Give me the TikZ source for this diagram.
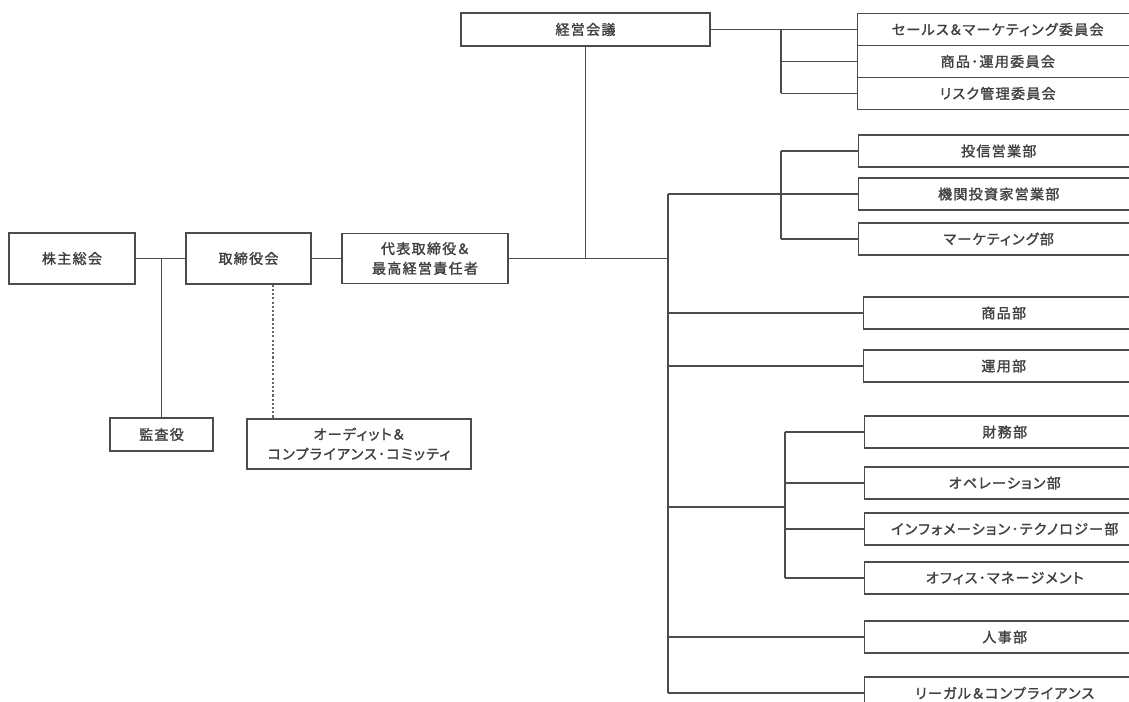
\documentclass[tikz,border=0pt]{standalone}
\usepackage{fontspec}
\newfontfamily\jpfont[LetterSpace=9, FakeBold=1.5, RawFeature=+palt]{Noto Sans CJK JP}
\usepackage{tikz}
\usetikzlibrary{positioning,calc}

\tikzset{
  unit/.style={draw=black!70, line width=1pt, fill=white, text=black!75,
    font=\jpfont\fontsize{10}{14}\selectfont, align=center, inner sep=0pt},
  dept/.style={unit, anchor=west, minimum width=7cm, minimum height=0.8cm},
  link/.style={draw=black!70, line width=1pt},
  dotlink/.style={draw=black!60, line width=1pt, dash pattern=on 1.5pt off 1.5pt}
}

\begin{document}
\begin{tikzpicture}[x=0.025cm, y=-0.025cm]
    \useasboundingbox (0,0) rectangle (1129,702);
    \clip (0,0) rectangle (1129,702);

    % Governance
    \node [unit, minimum width=3.15cm, minimum height=1.275cm] (kabu) at (72,258.5) {株主総会};
    \node [unit, minimum width=3.125cm, minimum height=1.275cm] (torishimari) at (248.5,258.5) {取締役会};
    \node [unit, minimum width=4.15cm, minimum height=1.25cm] (ceo) at (425,258.5) {代表取締役＆\\最高経営責任者};
    \node [unit, minimum width=2.575cm, minimum height=0.825cm] (kansa) at (161.5,434.5) {監査役};
    \node [unit, minimum width=5.6cm, minimum height=1.25cm] (audit) at (359,444) {オーディット＆\\コンプライアンス･コミッティ};
    \node [unit, minimum width=6.225cm, minimum height=0.825cm] (keiei) at (585.5,29.5) {経営会議};

    % Committees
    \node [dept] (sales) at (857,29.5) {セールス＆マーケティング委員会};
    \node [dept] (prodcom) at (857,61.5) {商品･運用委員会};
    \node [dept] (risk) at (857,93.5) {リスク管理委員会};

    % Departments
    \node [dept] (toshin) at (858,151) {投信営業部};
    \node [dept] (kikan) at (858,194) {機関投資家営業部};
    \node [dept] (mkt) at (858,239) {マーケティング部};
    \node [dept] (shohin) at (863,313) {商品部};
    \node [dept] (unyo) at (863,366) {運用部};
    \node [dept] (zaimu) at (864,432) {財務部};
    \node [dept] (ope) at (864,483) {オペレーション部};
    \node [dept] (it) at (864,529) {インフォメーション･テクノロジー部};
    \node [dept] (office) at (864,578) {オフィス･マネージメント};
    \node [dept] (jinji) at (864,637) {人事部};
    \node [dept] (legal) at (864,693) {リーガル＆コンプライアンス};

    % Bus points
    \coordinate (hub) at (668,258.5);
    \coordinate (combus) at (781,29.5);
    \coordinate (upbus) at (781,194);
    \coordinate (lowbus) at (785,507);
    \coordinate (dotx) at (273,0);

    % Governance links
    \draw [link] (kabu) -- (torishimari);
    \draw [link] (kansa.north) -- (kansa.north |- kabu.east);
    \draw [dotlink] (torishimari.south -| dotx) -- (audit.north -| dotx);
    \draw [link] (torishimari) -- (ceo);
    \draw [link] (ceo) -- (hub);
    \draw [link] (keiei) -- (keiei |- ceo);

    % Committee links
    \draw [link] (keiei) -- (sales);
    \draw [link] (combus |- sales) -- (combus |- risk);
    \foreach \n in {prodcom, risk} \draw [link] (combus |- \n) -- (\n);

    % Trunk
    \draw [link] (hub |- kikan) -- (hub |- legal);
    \foreach \n in {kikan, shohin, unyo, jinji, legal} \draw [link] (hub |- \n) -- (\n);

    % Sales group
    \draw [link] (upbus |- toshin) -- (upbus |- mkt);
    \foreach \n in {toshin, mkt} \draw [link] (upbus |- \n) -- (\n);

    % Support group
    \draw [link] (hub |- lowbus) -- (lowbus);
    \draw [link] (lowbus |- zaimu) -- (lowbus |- office);
    \foreach \n in {zaimu, ope, it, office} \draw [link] (lowbus |- \n) -- (\n);
\end{tikzpicture}
\end{document}
